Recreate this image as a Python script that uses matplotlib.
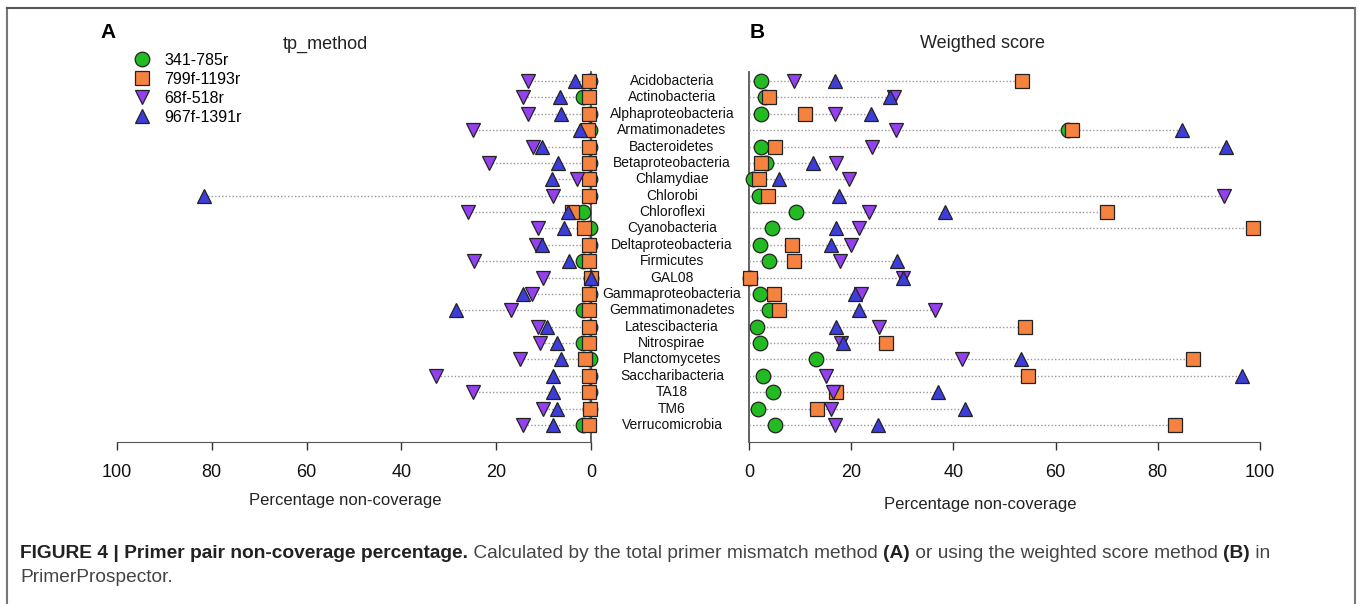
import numpy as np
import matplotlib
matplotlib.use('Agg')
import matplotlib.pyplot as plt
from matplotlib.lines import Line2D

plt.rcParams['font.family'] = ['Liberation Sans', 'DejaVu Sans']

## data
phyla = ['Acidobacteria', 'Actinobacteria', 'Alphaproteobacteria', 'Armatimonadetes',
         'Bacteroidetes', 'Betaproteobacteria', 'Chlamydiae', 'Chlorobi', 'Chloroflexi',
         'Cyanobacteria', 'Deltaproteobacteria', 'Firmicutes', 'GAL08',
         'Gammaproteobacteria', 'Gemmatimonadetes', 'Latescibacteria', 'Nitrospirae',
         'Planctomycetes', 'Saccharibacteria', 'TA18', 'TM6', 'Verrucomicrobia']
primers = ['341-785r', '799f-1193r', '68f-518r', '967f-1391r']

# panel A: tp_method
tp_341 = [0.2, 1.7, 0.2, 0.3, 0.2, 0.2, 0.2, 0.2, 1.7, 0.2, 0.2, 1.7, 0.0, 0.2, 1.7, 0.2, 1.7, 0.2, 0.2, 0.2, 0.2, 1.7]
tp_799 = [0.4, 0.4, 0.4, 0.6, 0.4, 0.4, 0.4, 0.4, 4.0, 1.5, 0.4, 0.4, 0.0, 0.4, 0.4, 0.4, 0.4, 1.3, 0.4, 0.4, 0.2, 0.4]
tp_68 = [13.3, 14.3, 13.3, 25.0, 12.2, 21.5, 2.9, 8.0, 25.9, 11.2, 11.6, 24.6, 10.1, 12.4, 16.8, 11.2, 10.7, 14.9, 32.8, 24.8, 10.1, 14.3]
tp_967 = [3.4, 6.5, 6.3, 2.3, 10.3, 6.9, 8.2, 81.7, 4.8, 5.7, 10.3, 4.6, 0.0, 14.3, 28.4, 9.3, 7.2, 6.3, 8.0, 8.0, 7.2, 8.0]

# panel B: weighted score
ws_341 = [2.3, 3.1, 2.3, 62.4, 2.3, 3.3, 0.8, 2.0, 9.2, 4.5, 2.2, 3.9, 0.2, 2.2, 3.9, 1.6, 2.2, 13.1, 2.7, 4.7, 1.8, 5.1]
ws_799 = [53.4, 3.9, 11.0, 63.2, 5.1, 2.3, 2.0, 3.7, 70.0, 98.6, 8.4, 8.8, 0.2, 4.9, 5.9, 54.0, 26.8, 86.9, 54.6, 17.0, 13.3, 83.4]
ws_68 = [8.8, 28.4, 16.9, 28.8, 24.1, 17.0, 19.6, 93.0, 23.5, 21.5, 20.0, 17.8, 30.1, 22.0, 36.4, 25.4, 18.0, 41.7, 15.1, 16.4, 16.0, 16.8]
ws_967 = [16.9, 27.6, 23.9, 84.7, 93.3, 12.5, 5.9, 17.6, 38.4, 17.0, 16.0, 29.0, 30.1, 20.7, 21.5, 17.0, 18.4, 53.2, 96.5, 37.0, 42.3, 25.2]

xticks = [0, 20, 40, 60, 80, 100]

# marker styles, drawn in this order (circle at the back, up triangle on top)
styles = [('o', '#22bb22', 10.5), ('s', '#f5823f', 9.5), ('v', '#9440ee', 10.5), ('^', '#3d3ddb', 10.5)]

W, H = 1358, 604
fig = plt.figure(figsize=(W / 100, H / 100), dpi=100)
fig.patch.set_facecolor('white')

def fx(px):
    return px / W

def fy(py):
    return 1 - py / H

n = len(phyla)
ypos = np.arange(n)[::-1]

axA = fig.add_axes([fx(117), fy(442), fx(591 - 117), fy(72) - fy(442)])
axB = fig.add_axes([fx(749), fy(442), fx(1260 - 749), fy(72) - fy(442)])

def draw_panel(ax, series):
    rowmax = np.max(np.array(series), axis=0)
    ax.hlines(ypos, 0, rowmax, colors='#999999', linestyles=(0, (1, 1.5)), lw=1.0, zorder=1)
    for (mk, col, ms), vals in zip(styles, series):
        ax.plot(vals, ypos, ls='none', marker=mk, ms=ms, mfc=col, mec='#222222', mew=0.9,
                zorder=3, clip_on=False)
    ax.set_ylim(-1.04, 21.55)
    ax.set_yticks([])
    ax.set_xticks(xticks)
    ax.tick_params(axis='x', direction='out', length=6, width=1, colors='#333333',
                   labelsize=13, labelcolor='#111111', pad=10)
    for s in ['top', 'left', 'right', 'bottom']:
        ax.spines[s].set_visible(False)
    ax.spines['bottom'].set_bounds(0, 100)
    ax.spines['bottom'].set_color('#555555')
    ax.patch.set_alpha(0)

draw_panel(axA, [tp_341, tp_799, tp_68, tp_967])
axA.set_xlim(100, 0)
axA.spines['bottom'].set_visible(True)
axA.spines['right'].set_visible(True)
axA.spines['right'].set_color('#555555')
axA.spines['right'].set_linewidth(1.3)
axA.spines['right'].set_zorder(0.5)

draw_panel(axB, [ws_341, ws_799, ws_68, ws_967])
axB.set_xlim(0, 100)
axB.spines['bottom'].set_visible(True)
axB.spines['left'].set_visible(True)
axB.spines['left'].set_color('#555555')
axB.spines['left'].set_linewidth(1.3)
axB.spines['left'].set_zorder(0.5)

# category names, centred between the panels
for name, y in zip(phyla, ypos):
    ydisp = axB.transData.transform((0, y))[1]
    fig.text(fx(672), ydisp / H, name, ha='center', va='center', fontsize=10, color='#111111')

# titles and panel letters
fig.text(fx(108), fy(33), 'A', fontsize=15, fontweight='bold', ha='center', va='center')
fig.text(fx(757), fy(33), 'B', fontsize=15, fontweight='bold', ha='center', va='center')
fig.text(fx(325), fy(44), 'tp_method', fontsize=13, ha='center', va='center', color='#222222')
fig.text(fx(983), fy(44), 'Weigthed score', fontsize=13, ha='center', va='center', color='#222222')
fig.text(fx(345), fy(500), 'Percentage non-coverage', fontsize=12, ha='center', va='center', color='#222222')
fig.text(fx(980), fy(505), 'Percentage non-coverage', fontsize=12, ha='center', va='center', color='#222222')

# legend
handles = [Line2D([], [], ls='none', marker=mk, ms=ms, mfc=col, mec='#222222', mew=0.9)
           for mk, col, ms in styles]
fig.legend(handles, primers, loc='upper left', bbox_to_anchor=(fx(134), fy(53)),
           frameon=False, fontsize=11.5, handlelength=1.0, handletextpad=0.9,
           labelspacing=0.25, borderpad=0, borderaxespad=0)

# border round the figure
fig.add_artist(Line2D([fx(7), fx(7)], [0, fy(8)], color='#777777', lw=1.5))
fig.add_artist(Line2D([fx(7), fx(1355)], [fy(8), fy(8)], color='#555555', lw=1.5))
fig.add_artist(Line2D([fx(1355), fx(1355)], [fy(8), 0], color='#777777', lw=1.5))

# caption, pieced together bold / regular
fig.canvas.draw()
rend = fig.canvas.get_renderer()
parts = [('FIGURE 4 | Primer pair non-coverage percentage.', 'bold', '#222222'),
         (' Calculated by the total primer mismatch method ', 'normal', '#444444'),
         ('(A)', 'bold', '#222222'),
         (' or using the weighted score method ', 'normal', '#444444'),
         ('(B)', 'bold', '#222222'),
         (' in', 'normal', '#444444')]
x = fx(20)
for s, w, c in parts:
    t = fig.text(x, fy(553), s, fontsize=13.8, fontweight=w, color=c, va='center', ha='left')
    bb = t.get_window_extent(renderer=rend)
    x = bb.x1 / W
fig.text(fx(20), fy(577), 'PrimerProspector.', fontsize=13.8, color='#444444', va='center', ha='left')

fig.savefig('out.png', dpi=100, facecolor='white')
